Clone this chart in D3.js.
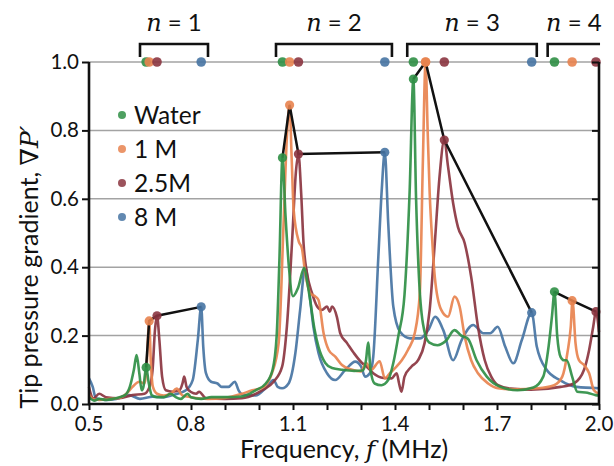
<!DOCTYPE html>
<html>
<head>
<meta charset="utf-8">
<script src="https://cdn.jsdelivr.net/npm/d3@7/dist/d3.min.js"></script>
<style>
  body { margin: 0; background: #fff; }
  text { font-family: Lato, "Liberation Sans", sans-serif; fill: #111; }
</style>
</head>
<body>
<svg width="614" height="466"></svg>
<script>
// ---- data ----
const seriesNames = ["Water", "1 M", "2.5M", "8 M"];
const seriesColors = ["#2f8f45", "#e8834f", "#8b3540", "#4774a3"];

const waterFreq = [0.500,0.515,0.530,0.550,0.570,0.590,0.605,0.620,0.632,0.640,0.648,0.655,0.660,0.668,0.676,0.685,0.700,0.720,0.740,0.755,0.770,0.790,0.800,0.830,0.860,0.900,0.950,0.990,1.020,1.040,1.052,1.060,1.069,1.078,1.088,1.100,1.115,1.133,1.143,1.151,1.163,1.175,1.195,1.215,1.245,1.280,1.305,1.315,1.321,1.328,1.340,1.360,1.380,1.395,1.410,1.428,1.443,1.454,1.462,1.470,1.482,1.500,1.525,1.550,1.575,1.595,1.615,1.640,1.670,1.710,1.760,1.807,1.836,1.852,1.862,1.869,1.877,1.887,1.897,1.905,1.921,1.936,1.966,1.990,2.000];
const waterVal  = [0.020,0.010,0.015,0.012,0.015,0.020,0.025,0.050,0.100,0.143,0.090,0.040,0.050,0.107,0.060,0.025,0.020,0.020,0.030,0.020,0.015,0.030,0.020,0.015,0.020,0.020,0.022,0.040,0.060,0.100,0.200,0.420,0.720,0.550,0.400,0.315,0.340,0.398,0.350,0.300,0.220,0.167,0.120,0.105,0.100,0.097,0.098,0.130,0.180,0.100,0.060,0.055,0.070,0.120,0.200,0.320,0.620,0.950,0.600,0.380,0.236,0.180,0.172,0.185,0.216,0.200,0.190,0.128,0.080,0.050,0.040,0.048,0.080,0.170,0.260,0.328,0.200,0.138,0.128,0.128,0.080,0.036,0.033,0.026,0.025];

const oneMFreq = [0.500,0.510,0.530,0.560,0.590,0.610,0.628,0.648,0.663,0.670,0.677,0.682,0.688,0.700,0.720,0.740,0.758,0.775,0.800,0.850,0.900,0.950,0.980,1.009,1.038,1.058,1.072,1.082,1.090,1.096,1.102,1.117,1.126,1.136,1.151,1.166,1.175,1.190,1.205,1.225,1.244,1.274,1.300,1.315,1.330,1.355,1.370,1.385,1.400,1.420,1.438,1.458,1.473,1.482,1.490,1.496,1.502,1.510,1.517,1.536,1.556,1.575,1.590,1.605,1.624,1.644,1.674,1.703,1.750,1.820,1.868,1.892,1.907,1.917,1.922,1.931,1.941,1.956,1.971,1.985,2.000];
const oneMVal  = [0.030,0.015,0.012,0.015,0.018,0.030,0.050,0.065,0.060,0.120,0.243,0.120,0.050,0.030,0.025,0.030,0.045,0.025,0.020,0.015,0.018,0.030,0.040,0.047,0.090,0.180,0.520,0.780,0.874,0.720,0.567,0.475,0.456,0.383,0.324,0.314,0.304,0.207,0.158,0.138,0.114,0.100,0.095,0.120,0.100,0.125,0.075,0.090,0.105,0.128,0.158,0.207,0.324,0.710,1.000,0.800,0.617,0.470,0.372,0.275,0.255,0.314,0.285,0.197,0.128,0.090,0.060,0.046,0.043,0.046,0.055,0.080,0.149,0.226,0.302,0.177,0.128,0.114,0.090,0.040,0.030];

const twoHalfMFreq = [0.500,0.505,0.512,0.530,0.550,0.589,0.628,0.663,0.678,0.687,0.694,0.700,0.707,0.715,0.726,0.746,0.766,0.775,0.780,0.787,0.800,0.815,0.824,0.844,0.900,0.950,1.009,1.043,1.068,1.082,1.097,1.109,1.116,1.124,1.131,1.141,1.156,1.171,1.185,1.200,1.208,1.215,1.229,1.239,1.259,1.279,1.303,1.317,1.336,1.366,1.390,1.405,1.412,1.419,1.428,1.448,1.468,1.487,1.502,1.517,1.531,1.545,1.556,1.571,1.585,1.605,1.624,1.644,1.664,1.683,1.703,1.740,1.800,1.887,1.926,1.956,1.971,1.983,1.991,2.000];
const twoHalfMVal  = [0.050,0.030,0.015,0.030,0.020,0.017,0.026,0.030,0.050,0.100,0.216,0.258,0.187,0.080,0.040,0.036,0.040,0.060,0.080,0.050,0.035,0.030,0.036,0.017,0.015,0.017,0.040,0.065,0.109,0.226,0.470,0.684,0.731,0.617,0.470,0.383,0.324,0.285,0.275,0.285,0.270,0.285,0.255,0.207,0.178,0.149,0.120,0.109,0.090,0.076,0.075,0.090,0.060,0.036,0.080,0.109,0.128,0.178,0.275,0.470,0.665,0.772,0.694,0.587,0.518,0.470,0.372,0.226,0.128,0.080,0.055,0.045,0.042,0.050,0.060,0.100,0.158,0.226,0.270,0.210];

const eightMFreq = [0.500,0.511,0.520,0.550,0.580,0.619,0.650,0.687,0.720,0.746,0.785,0.805,0.820,0.830,0.836,0.844,0.859,0.878,0.890,0.910,0.929,0.940,0.954,0.990,1.019,1.043,1.055,1.068,1.087,1.107,1.121,1.136,1.146,1.160,1.175,1.200,1.224,1.254,1.283,1.300,1.312,1.326,1.336,1.351,1.361,1.370,1.380,1.395,1.415,1.444,1.474,1.500,1.518,1.542,1.571,1.596,1.630,1.660,1.680,1.702,1.724,1.748,1.773,1.802,1.817,1.846,1.885,1.934,2.000];
const eightMVal  = [0.075,0.050,0.017,0.012,0.015,0.026,0.015,0.021,0.020,0.026,0.040,0.070,0.187,0.284,0.168,0.090,0.065,0.060,0.050,0.050,0.065,0.040,0.026,0.025,0.046,0.070,0.050,0.046,0.060,0.149,0.275,0.401,0.343,0.226,0.149,0.090,0.070,0.100,0.124,0.110,0.080,0.090,0.138,0.430,0.626,0.736,0.530,0.285,0.211,0.192,0.192,0.220,0.255,0.216,0.128,0.187,0.231,0.207,0.207,0.226,0.168,0.119,0.187,0.267,0.168,0.100,0.070,0.050,0.046];

// resonance peaks (n = 1..4) for each solution
const peakFreq = [
  [0.668, 1.069, 1.454, 1.869],
  [0.677, 1.090, 1.490, 1.921],
  [0.700, 1.116, 1.545, 1.991],
  [0.830, 1.370, 1.802]
];
const peakVal = [
  [0.107, 0.720, 0.950, 0.328],
  [0.243, 0.874, 1.000, 0.302],
  [0.258, 0.731, 0.772, 0.270],
  [0.284, 0.736, 0.267]
];

const modeLabels = ["1", "2", "3", "4"];
const modeStart = [0.650, 1.050, 1.436, 1.849];
const modeEnd   = [0.850, 1.391, 1.817, 2.003];

const xTickLabels = [0.5, 0.8, 1.1, 1.4, 1.7, 2.0];
const xMinorTicks = [0.5,0.6,0.7,0.8,0.9,1.0,1.1,1.2,1.3,1.4,1.5,1.6,1.7,1.8,1.9,2.0];
const yTickLabels = [0.0, 0.2, 0.4, 0.6, 0.8, 1.0];

// ---- layout ----
const svg = d3.select("svg");
const margin = { left: 89, right: 15, top: 62, bottom: 62 };
const W = 614, H = 466;

const x = d3.scaleLinear().domain([0.5, 2.0]).range([margin.left, W - margin.right]);
const y = d3.scaleLinear().domain([0, 1]).range([H - margin.bottom, margin.top]);

const serif = "'DejaVu Serif', 'Liberation Serif', serif";

// gridlines
svg.append("g")
  .selectAll("line")
  .data(yTickLabels.filter(d => d > 0))
  .join("line")
  .attr("x1", x(0.5)).attr("x2", x(2.0))
  .attr("y1", d => y(d)).attr("y2", d => y(d))
  .attr("stroke", "#a3a3a3").attr("stroke-width", 1.5);

// curves
const series = [
  { f: waterFreq, v: waterVal },
  { f: oneMFreq, v: oneMVal },
  { f: twoHalfMFreq, v: twoHalfMVal },
  { f: eightMFreq, v: eightMVal }
];
const line = d3.line()
  .x(d => x(d[0])).y(d => y(d[1]))
  .curve(d3.curveMonotoneX);

const drawOrder = [3, 2, 1, 0];
svg.append("g")
  .selectAll("path")
  .data(drawOrder)
  .join("path")
  .attr("d", i => line(d3.zip(series[i].f, series[i].v)))
  .attr("fill", "none")
  .attr("stroke", i => seriesColors[i])
  .attr("stroke-width", 2.6)
  .attr("stroke-opacity", 0.92)
  .attr("stroke-linejoin", "round");

// black lines joining the peaks of each mode
const modes = d3.range(4).map(n =>
  d3.range(4).filter(s => peakFreq[s][n] !== undefined)
    .map(s => [peakFreq[s][n], peakVal[s][n]]));
svg.append("g")
  .selectAll("path")
  .data(modes)
  .join("path")
  .attr("d", d3.line().x(d => x(d[0])).y(d => y(d[1])))
  .attr("fill", "none")
  .attr("stroke", "#111")
  .attr("stroke-width", 2.5);

// peak dots + dots on the 1.0 line
const dots = [];
peakFreq.forEach((fs, s) => fs.forEach((f, n) => dots.push({ s, f, v: peakVal[s][n] })));
svg.append("g")
  .selectAll("circle")
  .data(dots)
  .join("circle")
  .attr("cx", d => x(d.f)).attr("cy", d => y(d.v)).attr("r", 4.6)
  .attr("fill", d => seriesColors[d.s]).attr("fill-opacity", 0.9);
svg.append("g")
  .selectAll("circle")
  .data(dots)
  .join("circle")
  .attr("cx", d => x(d.f)).attr("cy", y(1)).attr("r", 4.8)
  .attr("fill", d => seriesColors[d.s]).attr("fill-opacity", 0.9);

// axes
const axisW = 2.6;
const xAxis = svg.append("g").attr("transform", `translate(0,${y(0)})`)
  .call(d3.axisBottom(x).tickValues(xMinorTicks).tickSize(6).tickFormat(""));
xAxis.select(".domain").remove();
xAxis.selectAll(".tick line").attr("stroke", "#111").attr("stroke-width", 2);
svg.append("line")
  .attr("x1", x(0.5) - 1).attr("x2", x(2.0) + 1)
  .attr("y1", y(0)).attr("y2", y(0))
  .attr("stroke", "#111").attr("stroke-width", axisW);
svg.append("g")
  .selectAll("text")
  .data(xTickLabels)
  .join("text")
  .attr("x", d => x(d)).attr("y", y(0) + 27)
  .attr("text-anchor", "middle")
  .attr("font-size", 20.5)
  .text(d => d.toFixed(1));

const yAxis = svg.append("g").attr("transform", `translate(${x(0.5)},0)`)
  .call(d3.axisLeft(y).tickValues(yTickLabels).tickSize(7).tickPadding(3).tickFormat(d3.format(".1f")));
yAxis.select(".domain").remove();
yAxis.selectAll(".tick line").attr("stroke", "#111").attr("stroke-width", 2);
yAxis.selectAll(".tick text").attr("font-size", 20.5).attr("fill", "#111")
  .style("font-family", "Lato, 'Liberation Sans', sans-serif");
svg.append("line")
  .attr("x1", x(0.5)).attr("x2", x(0.5))
  .attr("y1", y(1)).attr("y2", y(0))
  .attr("stroke", "#111").attr("stroke-width", axisW);

const yRight = svg.append("g").attr("transform", `translate(${x(2.0)},0)`)
  .call(d3.axisLeft(y).tickValues(yTickLabels).tickSize(7).tickFormat(""));
yRight.select(".domain").remove();
yRight.selectAll(".tick line").attr("stroke", "#111").attr("stroke-width", 2);
svg.append("line")
  .attr("x1", x(2.0)).attr("x2", x(2.0))
  .attr("y1", y(1)).attr("y2", y(0))
  .attr("stroke", "#111").attr("stroke-width", axisW);

// axis titles
const xt = svg.append("text")
  .attr("x", 344).attr("y", H - 8)
  .attr("text-anchor", "middle").attr("font-size", 25);
xt.append("tspan").text("Frequency, ");
xt.append("tspan").attr("font-style", "italic").style("font-family", serif).text("f");
xt.append("tspan").text(" (MHz)");

const yt = svg.append("text")
  .attr("transform", "translate(38,267) rotate(-90)")
  .attr("text-anchor", "middle").attr("font-size", 25);
yt.append("tspan").text("Tip pressure gradient, ");
yt.append("tspan").style("font-family", serif).text("\u2207");
yt.append("tspan").attr("font-style", "italic").style("font-family", serif).text("P\u2032");

// mode brackets
const br = svg.append("g");
modeLabels.forEach((lab, i) => {
  const x0 = x(modeStart[i]), x1 = Math.min(x(modeEnd[i]), W - 13);
  const top = 44, leg = 57;
  const pts = i < 3 ? [[x0, leg], [x0, top], [x1, top], [x1, leg]] : [[x0, leg], [x0, top], [x1, top]];
  br.append("path").attr("d", d3.line()(pts))
    .attr("fill", "none").attr("stroke", "#111").attr("stroke-width", 2.6);
  const t = br.append("text")
    .attr("x", (x0 + x1) / 2).attr("y", 31)
    .attr("text-anchor", "middle").attr("font-size", 24);
  t.append("tspan").attr("font-style", "italic").style("font-family", serif).text("n");
  t.append("tspan").text(" = " + lab);
});

// legend
const lg = svg.append("g");
seriesNames.forEach((name, i) => {
  const cy = 115 + i * 34;
  lg.append("circle").attr("cx", 122).attr("cy", cy).attr("r", 4)
    .attr("fill", seriesColors[i]).attr("fill-opacity", 0.85);
  lg.append("text").attr("x", 134).attr("y", cy + 8.5)
    .attr("font-size", 24.5).text(name);
});
</script>
</body>
</html>
